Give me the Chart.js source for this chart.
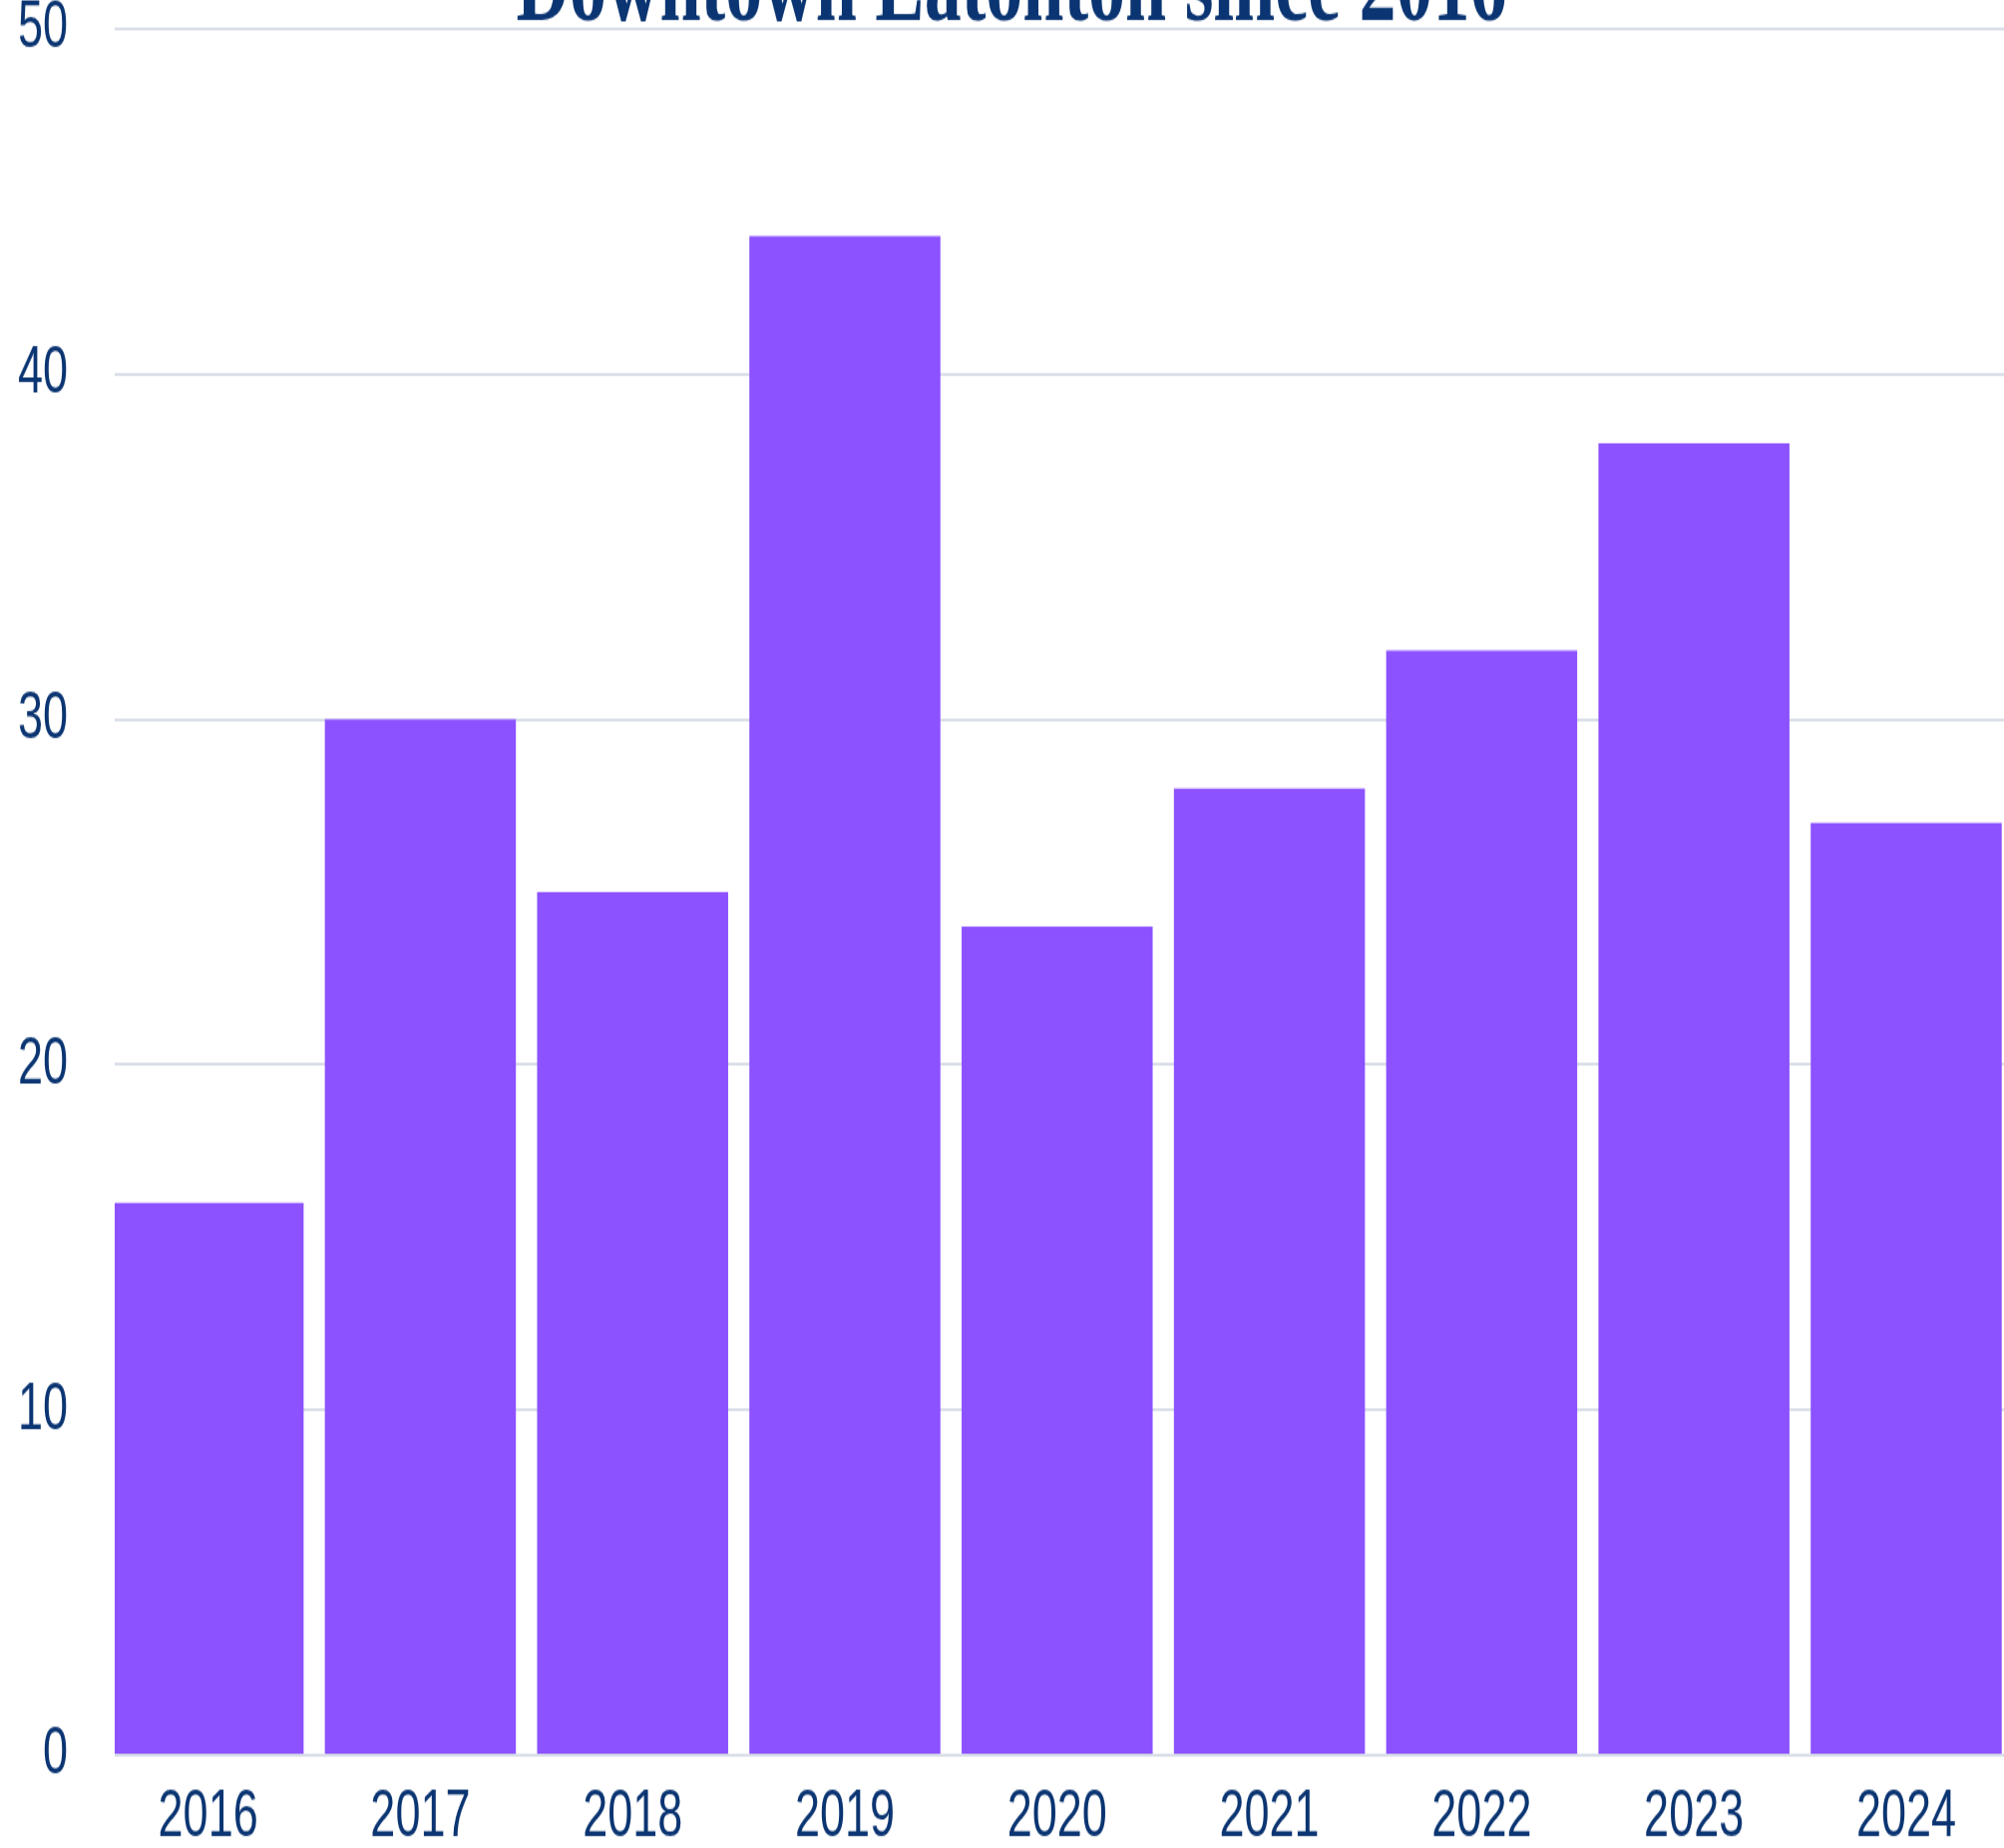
<!DOCTYPE html>
<html>
<head>
<meta charset="utf-8">
<script src="https://cdn.jsdelivr.net/npm/chart.js@4/dist/chart.umd.min.js"></script>
<style>
  html, body { margin: 0; padding: 0; background: #fff; overflow: hidden; width: 2009px; height: 1853px; }
  /* the source picture is stretched tall, so the canvas is stretched the same way */
  #wrap { position: absolute; left: 0; top: -81.7px; transform: scaleY(1.5); transform-origin: 0 0; }
</style>
</head>
<body>
<div id="wrap"><canvas id="barChart" width="2028" height="1312"></canvas></div>
<script>
// ===== DATA =====
const years  = [2016, 2017, 2018, 2019, 2020, 2021, 2022, 2023, 2024];
const counts = [16, 30, 25, 44, 24, 28, 32, 38, 27];
const chartTitle = "Downtown Eatonton since 2016";

const navy = "#0b3572";
const purple = "#8c52ff";

let points = years.map(function(y, i){ return { x: y, y: counts[i] }; });

// ===== CHART =====
let ctx = document.getElementById("barChart");

let chart = new Chart(ctx, {
  type: "bar",
  data: {
    datasets: [{
      data: points,
      backgroundColor: purple,
      borderWidth: 0,
      barPercentage: 0.9,
      categoryPercentage: 1
    }]
  },
  options: {
    responsive: false,
    animation: false,
    devicePixelRatio: 1,
    layout: { padding: 0 },
    plugins: {
      legend: { display: false },
      tooltip: { enabled: false },
      title: {
        display: true,
        text: chartTitle,
        color: navy,
        font: { family: "Liberation Serif", size: 74, weight: "bold", lineHeight: 0.68 },
        padding: 0
      }
    },
    scales: {
      x: {
        type: "linear",
        offset: false,
        min: 2015.56,
        max: 2024.55,
        grid: { display: false, drawTicks: false },
        border: { display: false },
        ticks: {
          stepSize: 1,
          includeBounds: false,
          padding: 15,
          color: navy,
          font: { family: "Liberation Sans", size: 45 },
          callback: function(v){ return String(Math.round(v)); }
        }
      },
      y: {
        min: 0,
        max: 50,
        border: { display: false },
        grid: { color: "#d9dee8", lineWidth: 2, drawTicks: false },
        ticks: {
          stepSize: 10,
          padding: 47,
          color: navy,
          font: { family: "Liberation Sans", size: 45 }
        },
        afterFit: function(scale){ scale.width = 115; }
      }
    }
  }
});
</script>
</body>
</html>
